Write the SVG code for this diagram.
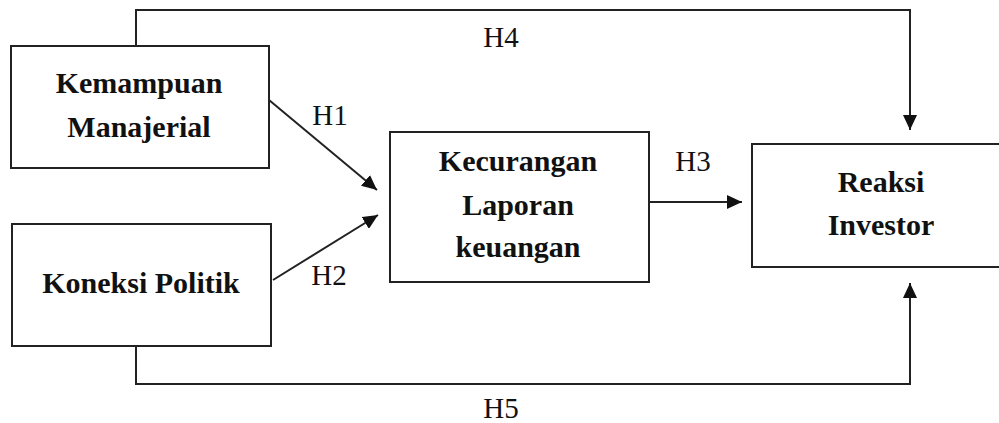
<svg xmlns="http://www.w3.org/2000/svg" width="999" height="423" viewBox="0 0 999 423">
<style>
.box{fill:#fff;stroke:#222;stroke-width:2}
.t{font-family:"Liberation Serif","Times New Roman",serif;font-size:30px;font-weight:bold;fill:#111;text-anchor:middle}
.h{font-family:"Liberation Serif","Times New Roman",serif;font-size:29px;fill:#111;text-anchor:middle}
.c{fill:none;stroke:#222;stroke-width:2}
</style>
<defs>
<marker id="ah" markerWidth="16" markerHeight="14" refX="15" refY="7" orient="auto" markerUnits="userSpaceOnUse">
<path d="M0,0 L15,7 L0,14 Z" fill="#111"/>
</marker>
</defs>
<rect width="999" height="423" fill="#fff"/>
<g id="connectors">
<path class="c" d="M136,46 V10 H910 V130" marker-end="url(#ah)"/>
<path class="c" d="M136,346 V384 H910 V283" marker-end="url(#ah)"/>
<path class="c" d="M269,100 L377,190" marker-end="url(#ah)"/>
<path class="c" d="M273,280 L378,215" marker-end="url(#ah)"/>
<path class="c" d="M649,202 H742" marker-end="url(#ah)"/>
<text class="h" x="330" y="125">H1</text>
<text class="h" x="329" y="285">H2</text>
<text class="h" x="693" y="171">H3</text>
<text class="h" x="501" y="47">H4</text>
<text class="h" x="501" y="418">H5</text>
</g>
<g id="kemampuan">
<rect class="box" x="11" y="46" width="258" height="122"/>
<text class="t" x="139" y="93">Kemampuan</text>
<text class="t" x="139" y="137">Manajerial</text>
</g>
<g id="koneksi">
<rect class="box" x="12" y="224" width="259" height="122"/>
<text class="t" x="141" y="293">Koneksi Politik</text>
</g>
<g id="kecurangan">
<rect class="box" x="390" y="132" width="259" height="150"/>
<text class="t" x="518" y="171">Kecurangan</text>
<text class="t" x="518" y="215">Laporan</text>
<text class="t" x="518" y="257">keuangan</text>
</g>
<g id="reaksi">
<rect class="box" x="752" y="144" width="260" height="123"/>
<text class="t" x="881" y="192">Reaksi</text>
<text class="t" x="881" y="235">Investor</text>
</g>
</svg>
